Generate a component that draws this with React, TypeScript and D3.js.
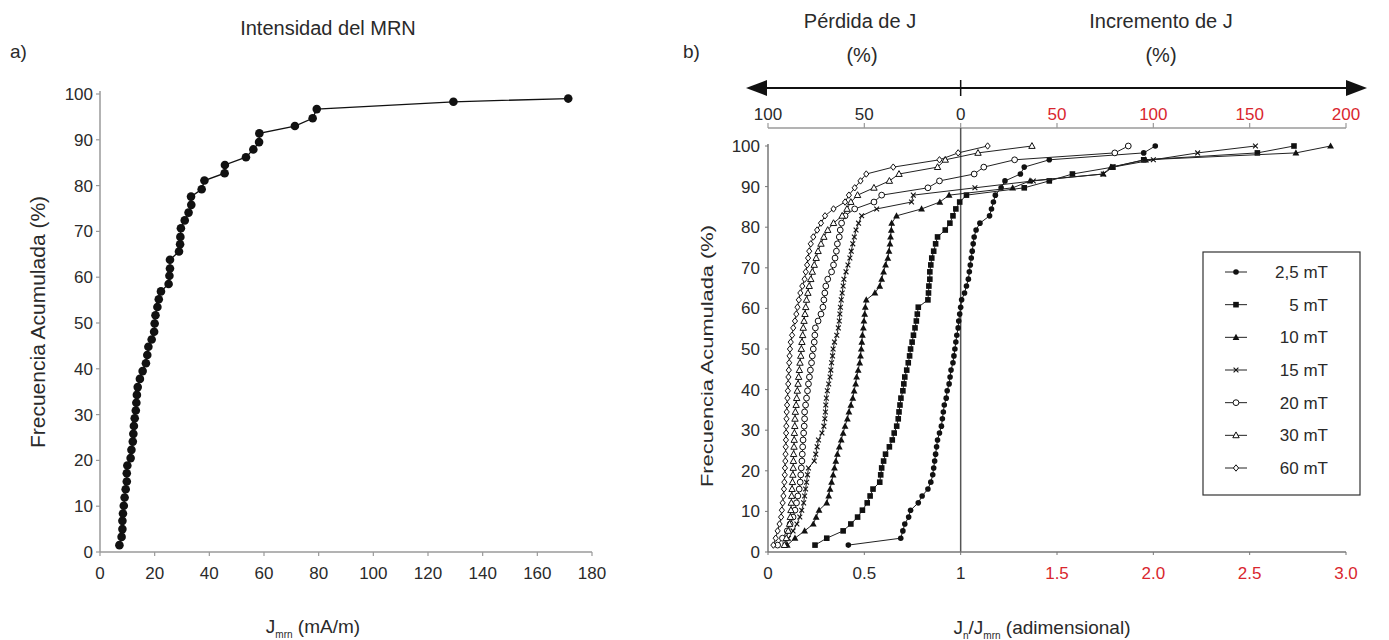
import React from "react";
import * as d3 from "d3";

// ---------- Panel a data ----------
const aX = [7.1, 7.9, 8.2, 8.2, 8.4, 8.7, 9.0, 9.4, 9.8, 9.8, 10.0, 11.2, 11.5, 12.0, 12.2, 12.4, 12.7, 13.1, 13.3, 13.5, 13.8, 14.6, 15.6, 16.8, 17.3, 17.7, 18.9, 19.8, 20.0, 20.3, 21.0, 21.5, 22.3, 25.1, 25.4, 25.6, 25.6, 28.9, 29.3, 29.4, 29.6, 31.0, 32.4, 33.4, 33.3, 37.2, 38.2, 45.6, 45.7, 53.4, 56.1, 58.2, 58.3, 71.3, 77.8, 79.3, 129.3, 171.3];
const aY = [1.5, 3.3, 5.0, 6.8, 8.4, 10.1, 11.9, 13.7, 15.4, 17.2, 18.9, 20.5, 22.3, 24.1, 25.8, 27.5, 29.2, 30.9, 32.6, 34.3, 36.0, 37.8, 39.5, 41.2, 43.0, 44.8, 46.4, 48.1, 49.9, 51.7, 53.5, 55.2, 56.9, 58.5, 60.3, 61.9, 63.8, 65.6, 67.2, 68.8, 70.7, 72.4, 74.1, 75.8, 77.6, 79.2, 81.1, 82.7, 84.5, 86.2, 87.9, 89.5, 91.4, 93.0, 94.7, 96.7, 98.3, 99.0];
const aXTicks = [0, 20, 40, 60, 80, 100, 120, 140, 160, 180];
const aYTicks = [0, 10, 20, 30, 40, 50, 60, 70, 80, 90, 100];

// ---------- Panel b data ----------
const bY = [1.7, 3.4, 5.2, 6.9, 8.6, 10.3, 12.1, 13.8, 15.5, 17.2, 19.0, 20.7, 22.4, 24.1, 25.9, 27.6, 29.3, 31.0, 32.8, 34.5, 36.2, 37.9, 39.7, 41.4, 43.1, 44.8, 46.6, 48.3, 50.0, 51.7, 53.4, 55.2, 56.9, 58.6, 60.3, 62.1, 63.8, 65.5, 67.2, 69.0, 70.7, 72.4, 74.1, 75.9, 77.6, 79.3, 81.0, 82.8, 84.5, 86.2, 87.9, 89.7, 91.4, 93.1, 94.8, 96.6, 98.3, 100];
const s2_5 = [0.417, 0.689, 0.70, 0.71, 0.73, 0.74, 0.78, 0.80, 0.83, 0.845, 0.855, 0.86, 0.865, 0.87, 0.875, 0.88, 0.89, 0.90, 0.905, 0.91, 0.915, 0.925, 0.93, 0.94, 0.945, 0.95, 0.96, 0.965, 0.97, 0.975, 0.98, 0.987, 0.99, 0.995, 1.0, 1.005, 1.02, 1.03, 1.04, 1.045, 1.05, 1.055, 1.06, 1.065, 1.07, 1.08, 1.10, 1.15, 1.16, 1.17, 1.18, 1.21, 1.23, 1.31, 1.33, 1.46, 1.95, 2.01];
const s5 = [0.244, 0.305, 0.39, 0.43, 0.465, 0.49, 0.515, 0.53, 0.545, 0.58, 0.585, 0.59, 0.60, 0.61, 0.63, 0.645, 0.655, 0.668, 0.676, 0.68, 0.685, 0.69, 0.70, 0.705, 0.71, 0.72, 0.728, 0.735, 0.74, 0.748, 0.755, 0.763, 0.77, 0.775, 0.78, 0.83, 0.833, 0.835, 0.84, 0.84, 0.845, 0.85, 0.86, 0.87, 0.88, 0.92, 0.944, 0.96, 0.975, 0.995, 1.03, 1.33, 1.46, 1.58, 1.79, 1.95, 2.54, 2.73];
const s10 = [0.10, 0.14, 0.19, 0.235, 0.25, 0.265, 0.305, 0.315, 0.322, 0.33, 0.338, 0.345, 0.352, 0.36, 0.37, 0.38, 0.39, 0.40, 0.412, 0.42, 0.43, 0.44, 0.447, 0.455, 0.46, 0.468, 0.476, 0.48, 0.484, 0.487, 0.49, 0.495, 0.498, 0.502, 0.505, 0.51, 0.555, 0.58, 0.59, 0.60, 0.61, 0.622, 0.628, 0.633, 0.636, 0.64, 0.642, 0.667, 0.797, 0.892, 0.94, 1.27, 1.36, 1.74, 1.78, 1.96, 2.74, 2.92];
const s15 = [0.088, 0.106, 0.13, 0.15, 0.165, 0.175, 0.185, 0.19, 0.195, 0.20, 0.205, 0.21, 0.24, 0.248, 0.255, 0.262, 0.28, 0.29, 0.295, 0.298, 0.30, 0.303, 0.308, 0.315, 0.322, 0.326, 0.33, 0.335, 0.338, 0.345, 0.357, 0.365, 0.37, 0.373, 0.376, 0.38, 0.385, 0.39, 0.394, 0.405, 0.415, 0.425, 0.432, 0.44, 0.448, 0.457, 0.47, 0.486, 0.564, 0.745, 0.754, 1.074, 1.377, 1.74, 1.79, 2.0, 2.23, 2.53];
const s20 = [0.05, 0.075, 0.10, 0.115, 0.13, 0.14, 0.148, 0.155, 0.162, 0.167, 0.17, 0.173, 0.176, 0.178, 0.18, 0.182, 0.185, 0.188, 0.19, 0.19, 0.195, 0.20, 0.205, 0.21, 0.215, 0.22, 0.226, 0.23, 0.235, 0.24, 0.243, 0.246, 0.26, 0.275, 0.285, 0.29, 0.295, 0.30, 0.31, 0.33, 0.34, 0.348, 0.355, 0.36, 0.37, 0.375, 0.382, 0.40, 0.45, 0.55, 0.59, 0.83, 0.89, 1.07, 1.12, 1.28, 1.80, 1.87];
const s30 = [0.085, 0.095, 0.105, 0.112, 0.116, 0.119, 0.121, 0.123, 0.125, 0.127, 0.129, 0.131, 0.132, 0.133, 0.135, 0.136, 0.137, 0.139, 0.14, 0.142, 0.146, 0.149, 0.152, 0.156, 0.159, 0.163, 0.166, 0.17, 0.173, 0.176, 0.18, 0.183, 0.187, 0.192, 0.196, 0.20, 0.207, 0.214, 0.222, 0.23, 0.24, 0.25, 0.26, 0.275, 0.29, 0.31, 0.34, 0.385, 0.41, 0.43, 0.465, 0.55, 0.63, 0.68, 0.88, 0.92, 1.09, 1.37];
const s60 = [0.028, 0.04, 0.05, 0.06, 0.068, 0.072, 0.076, 0.08, 0.083, 0.085, 0.087, 0.088, 0.09, 0.091, 0.092, 0.093, 0.094, 0.095, 0.096, 0.097, 0.099, 0.101, 0.103, 0.105, 0.106, 0.108, 0.11, 0.112, 0.114, 0.118, 0.125, 0.131, 0.14, 0.147, 0.153, 0.16, 0.168, 0.178, 0.19, 0.196, 0.203, 0.208, 0.214, 0.222, 0.235, 0.255, 0.275, 0.296, 0.34, 0.40, 0.42, 0.45, 0.48, 0.51, 0.65, 0.89, 0.987, 1.14];

const seriesNames = ["2,5 mT", "5 mT", "10 mT", "15 mT", "20 mT", "30 mT", "60 mT"];
const seriesValues = [s2_5, s5, s10, s15, s20, s30, s60];
const markerKinds = ["dot", "square", "tri", "cross", "circle", "otri", "diamond"];

const bXTickValues = [0, 0.5, 1, 1.5, 2, 2.5, 3];
const bXTickLabels = ["0", "0.5", "1", "1.5", "2.0", "2.5", "3.0"];
const bTopTickLabels = ["100", "50", "0", "50", "100", "150", "200"];
const bYTicks = [0, 10, 20, 30, 40, 50, 60, 70, 80, 90, 100];

const FONT = "'Liberation Sans', Arial, Helvetica, sans-serif";
const TXT = "#2a2a2a";
const RED = "#d9262e";
const AXIS = "#9a9a9a";

function Marker({ kind, x, y }: { kind: string; x: number; y: number }) {
  const c = "#111";
  switch (kind) {
    case "dot":
      return <circle cx={x} cy={y} r={2.8} fill={c} />;
    case "square":
      return <rect x={x - 2.8} y={y - 2.8} width={5.6} height={5.6} fill={c} />;
    case "tri":
      return <path d={`M${x},${y - 3.6}L${x + 3.4},${y + 2.6}L${x - 3.4},${y + 2.6}Z`} fill={c} />;
    case "cross":
      return <path d={`M${x - 2.4},${y - 2.4}L${x + 2.4},${y + 2.4}M${x - 2.4},${y + 2.4}L${x + 2.4},${y - 2.4}`} stroke={c} strokeWidth={1.1} />;
    case "circle":
      return <circle cx={x} cy={y} r={2.9} fill="#fff" stroke={c} strokeWidth={1} />;
    case "otri":
      return <path d={`M${x},${y - 3.4}L${x + 3.2},${y + 2.4}L${x - 3.2},${y + 2.4}Z`} fill="#fff" stroke={c} strokeWidth={1} />;
    case "diamond":
      return <path d={`M${x},${y - 3.2}L${x + 2.6},${y}L${x},${y + 3.2}L${x - 2.6},${y}Z`} fill="#fff" stroke={c} strokeWidth={1} />;
    default:
      return null;
  }
}

export default function App() {
  // Panel a scales
  const ax = d3.scaleLinear().domain([0, 180]).range([100, 592]);
  const ay = d3.scaleLinear().domain([0, 100]).range([552, 94]);
  const aLine = d3.line<number>().x((_, i) => ax(aX[i])).y((_, i) => ay(aY[i]));
  const aPath = aLine(aX) || "";

  // Panel b scales
  const bx = d3.scaleLinear().domain([0, 3]).range([768, 1346]);
  const by = d3.scaleLinear().domain([0, 100]).range([552, 146]);

  const legendY = d3.scaleLinear().domain([0, 6]).range([272, 468]);

  const arrowY = 88;
  const topAxisY = 128;

  return (
    <svg width={1389} height={640} style={{ position: "absolute", left: 0, top: 0, background: "#fff" }} fontFamily={FONT}>
      {/* ===== Panel a ===== */}
      <text x={328} y={35} textAnchor="middle" fontSize={20} fill={TXT}>Intensidad del MRN</text>
      <text x={10} y={58} fontSize={19} fill={TXT}>a)</text>
      <line x1={ax(0)} x2={ax(0)} y1={ay(100) - 3} y2={ay(0)} stroke={AXIS} strokeWidth={1.5} />
      <line x1={ax(0)} x2={ax(180)} y1={ay(0)} y2={ay(0)} stroke={AXIS} strokeWidth={1.5} />
      {aYTicks.map((t) => (
        <g key={"ay" + t}>
          <line x1={ax(0) - 4} x2={ax(0)} y1={ay(t)} y2={ay(t)} stroke={AXIS} strokeWidth={1.2} />
          <text x={ax(0) - 7} y={ay(t) + 6} textAnchor="end" fontSize={17} fill={TXT}>{t}</text>
        </g>
      ))}
      {aXTicks.map((t) => (
        <g key={"ax" + t}>
          <line x1={ax(t)} x2={ax(t)} y1={ay(0)} y2={ay(0) + 4} stroke={AXIS} strokeWidth={1.2} />
          <text x={ax(t)} y={ay(0) + 27} textAnchor="middle" fontSize={17} fill={TXT}>{t}</text>
        </g>
      ))}
      <text transform={`translate(45,322) rotate(-90)`} textAnchor="middle" fontSize={21} fill={TXT}>Frecuencia Acumulada (%)</text>
      <text x={313} y={633} textAnchor="middle" fontSize={19} fill={TXT}>
        J<tspan fontSize={10} dy={5}>mrn</tspan><tspan dy={-5}> (mA/m)</tspan>
      </text>
      <path d={aPath} fill="none" stroke="#111" strokeWidth={1.3} />
      {aX.map((v, i) => (
        <circle key={"ap" + i} cx={ax(v)} cy={ay(aY[i])} r={4.3} fill="#111" />
      ))}

      {/* ===== Panel b ===== */}
      <text x={683} y={58} fontSize={19} fill={TXT}>b)</text>
      <text x={860} y={28} textAnchor="middle" fontSize={20} fill={TXT}>Pérdida de J</text>
      <text x={862} y={62} textAnchor="middle" fontSize={20} fill={TXT}>(%)</text>
      <text x={1161} y={28} textAnchor="middle" fontSize={20} fill={TXT}>Incremento de J</text>
      <text x={1161} y={62} textAnchor="middle" fontSize={20} fill={TXT}>(%)</text>
      {/* double arrow */}
      <line x1={762} x2={1350} y1={arrowY} y2={arrowY} stroke="#111" strokeWidth={2} />
      <path d={`M746,${arrowY}L767,${arrowY - 8}L767,${arrowY + 8}Z`} fill="#111" />
      <path d={`M1367,${arrowY}L1346,${arrowY - 8}L1346,${arrowY + 8}Z`} fill="#111" />
      <line x1={bx(1)} x2={bx(1)} y1={arrowY - 8} y2={arrowY + 8} stroke="#111" strokeWidth={1.5} />
      {/* top axis */}
      <line x1={bx(0)} x2={bx(3)} y1={topAxisY} y2={topAxisY} stroke={AXIS} strokeWidth={1.5} />
      {bXTickValues.map((v, i) => (
        <g key={"bt" + i}>
          <line x1={bx(v)} x2={bx(v)} y1={topAxisY - 5} y2={topAxisY} stroke={AXIS} strokeWidth={1.2} />
          <text x={bx(v)} y={topAxisY - 8} textAnchor="middle" fontSize={17} fill={v > 1 ? RED : TXT}>{bTopTickLabels[i]}</text>
        </g>
      ))}
      <line x1={bx(1)} x2={bx(1)} y1={topAxisY} y2={by(0)} stroke="#555" strokeWidth={1.5} />
      <line x1={bx(0)} x2={bx(0)} y1={by(100) - 2} y2={by(0)} stroke="#777" strokeWidth={1.5} />
      {bYTicks.map((t) => (
        <g key={"by" + t}>
          <line x1={bx(0) - 3} x2={bx(0)} y1={by(t)} y2={by(t)} stroke="#777" strokeWidth={1} />
          <text x={bx(0) - 8} y={by(t) + 6} textAnchor="end" fontSize={17} fill={TXT}>{t}</text>
        </g>
      ))}
      <line x1={bx(0)} x2={bx(3)} y1={by(0)} y2={by(0)} stroke="#777" strokeWidth={1.5} />
      {bXTickValues.map((v, i) => (
        <g key={"bb" + i}>
          <line x1={bx(v)} x2={bx(v)} y1={by(0)} y2={by(0) + 3} stroke="#777" strokeWidth={1} />
          <text x={bx(v)} y={by(0) + 27} textAnchor="middle" fontSize={17} fill={v > 1 ? RED : TXT}>{bXTickLabels[i]}</text>
        </g>
      ))}
      <text transform={`translate(713,356) rotate(-90)`} textAnchor="middle" fontSize={17} textLength={262} lengthAdjust="spacingAndGlyphs" fill={TXT}>Frecuencia Acumulada (%)</text>
      <text x={1042} y={634} textAnchor="middle" fontSize={19} fill={TXT}>
        J<tspan fontSize={10} dy={5}>n</tspan><tspan dy={-5}>/J</tspan><tspan fontSize={10} dy={5}>mrn</tspan><tspan dy={-5}> (adimensional)</tspan>
      </text>
      {seriesValues.map((vals, si) => {
        const line = d3.line<number>().x((v) => bx(v)).y((_, i) => by(bY[i]));
        return (
          <g key={"s" + si}>
            <path d={line(vals) || ""} fill="none" stroke="#222" strokeWidth={1} />
            {vals.map((v, i) => (
              <Marker key={i} kind={markerKinds[si]} x={bx(v)} y={by(bY[i])} />
            ))}
          </g>
        );
      })}
      <rect x={1203} y={252} width={157} height={243} fill="#fff" stroke="#333" strokeWidth={1.2} />
      {seriesNames.map((n, i) => (
        <g key={"lg" + i}>
          <line x1={1225} x2={1247} y1={legendY(i)} y2={legendY(i)} stroke="#222" strokeWidth={1} />
          <Marker kind={markerKinds[i]} x={1236} y={legendY(i)} />
          <text x={1328} y={legendY(i) + 6} textAnchor="end" fontSize={17} fill={TXT}>{n}</text>
        </g>
      ))}
    </svg>
  );
}
